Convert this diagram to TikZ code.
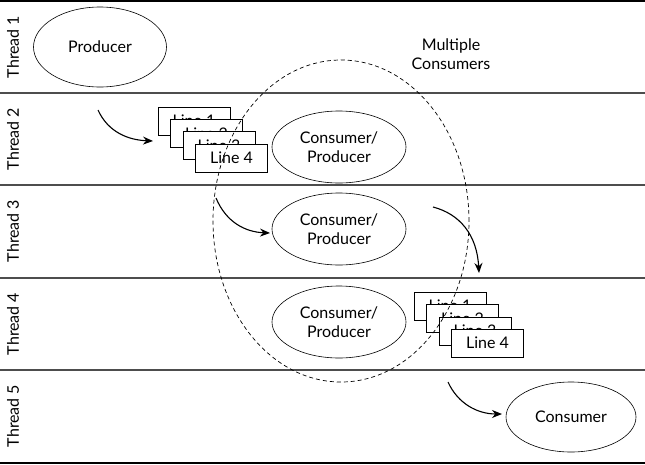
\documentclass[tikz,border=0pt]{standalone}
\usepackage{fontspec}
\setmainfont{Lato}
\usetikzlibrary{shapes.geometric,arrows.meta}
\definecolor{lanegray}{HTML}{4D4D4D}

\begin{document}
\begin{tikzpicture}[x=1pt, y=-1pt,
    every node/.style={font=\fontsize{16}{19}\selectfont},
    task/.style={draw, ellipse, line width=0.6pt, align=center, inner sep=0pt},
    linebox/.style={draw, fill=white, line width=0.6pt, minimum width=72pt, minimum height=28pt, inner sep=0pt},
    lane/.style={lanegray, line width=1.2pt},
    flow/.style={line width=1.1pt, -{Stealth[length=10pt, width=8pt]}}]
    \useasboundingbox (0,0) rectangle (645,464);
    % lanes
    \draw [black, line width=1.4pt] (0,1) -- (645,1);
    \draw [lane] (0,93) -- (645,93);
    \draw [lane] (0,185) -- (645,185);
    \draw [lane] (0,278) -- (645,278);
    \draw [lane] (0,370) -- (645,370);
    \draw [black, line width=1.4pt] (0,463) -- (645,463);
    \node [rotate=90] (t1) at (13,47) {Thread 1};
    \node [rotate=90] (t2) at (13,139) {Thread 2};
    \node [rotate=90] (t3) at (13,231) {Thread 3};
    \node [rotate=90] (t4) at (13,324) {Thread 4};
    \node [rotate=90] (t5) at (13,416) {Thread 5};
    % tasks
    \node [task, minimum width=133pt, minimum height=80pt] (producer) at (100,47) {Producer};
    \node [task, minimum width=134pt, minimum height=72pt] (cp2) at (339,147) {Consumer/\\Producer};
    \node [task, minimum width=134pt, minimum height=72pt] (cp3) at (339,229) {Consumer/\\Producer};
    \node [task, minimum width=134pt, minimum height=72pt] (cp4) at (339,322) {Consumer/\\Producer};
    \node [task, minimum width=130pt, minimum height=70pt] (consumer) at (571,417) {Consumer};
    % line stacks
    \node [linebox] (l21) at (194,121) {Line 1};
    \node [linebox] (l22) at (206.5,133.5) {Line 2};
    \node [linebox] (l23) at (219,145.5) {Line 3};
    \node [linebox] (l24) at (231.5,158) {Line 4};
    \node [linebox] (l41) at (450,306) {Line 1};
    \node [linebox] (l42) at (462.5,318.5) {Line 2};
    \node [linebox] (l43) at (475,331) {Line 3};
    \node [linebox] (l44) at (487.5,343) {Line 4};
    % group
    \node [draw, ellipse, line width=0.7pt, dash pattern=on 4pt off 3pt, minimum width=256pt, minimum height=322pt] (multi) at (341,221) {};
    \node [align=center] (multilabel) at (451,54) {Multiple\\Consumers};
    % arrows
    \coordinate (a2s) at (98,110);
    \coordinate (a2e) at (153,141);
    \coordinate (a3s) at (216,198);
    \coordinate (a3e) at (270,233);
    \coordinate (b3s) at (433,207);
    \coordinate (b3e) at (479,273);
    \coordinate (a5s) at (448,382);
    \coordinate (a5e) at (502,414);
    \draw [flow] (a2s) .. controls (108,132) and (128,140) .. (a2e);
    \draw [flow] (a3s) .. controls (226,222) and (245,232) .. (a3e);
    \draw [flow] (b3s) .. controls (460,214) and (477,235) .. (b3e);
    \draw [flow] (a5s) .. controls (458,404) and (478,414) .. (a5e);
\end{tikzpicture}
\end{document}
